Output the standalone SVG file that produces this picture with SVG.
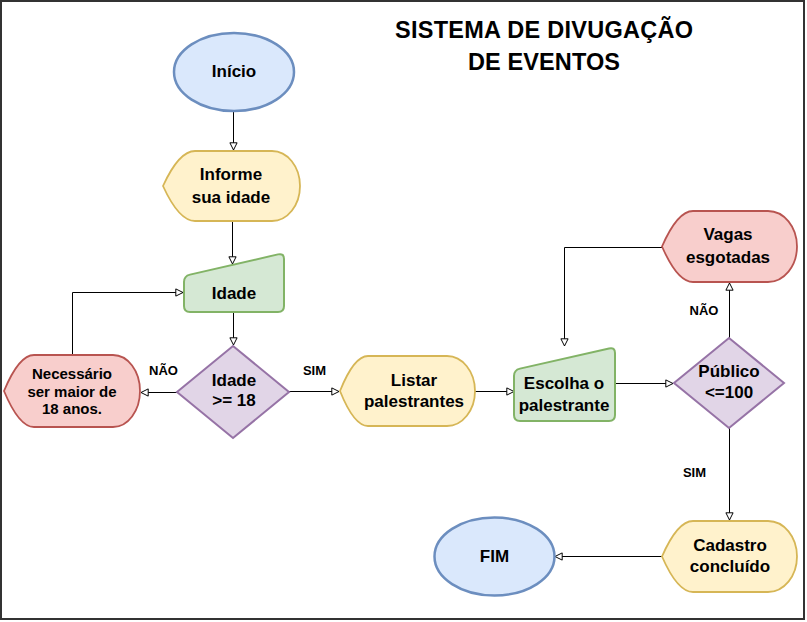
<svg xmlns="http://www.w3.org/2000/svg" width="807" height="622" viewBox="0 0 807 622">
<style>
text{font-family:"Liberation Sans",Arial,sans-serif;font-weight:bold;fill:#000;text-anchor:middle}
.t{font-size:17px}
.s{font-size:15px}
.l{font-size:13px}
.ti{font-size:23.5px}
.term{fill:#dae8fc;stroke:#6c8ebf;stroke-width:2.5}
.disp{fill:#fff2cc;stroke:#d6b656;stroke-width:1.8}
.err{fill:#f8cecc;stroke:#b85450;stroke-width:1.8}
.man{fill:#d5e8d4;stroke:#82b366;stroke-width:2}
.dec{fill:#e1d5e7;stroke:#9673a6;stroke-width:2}
.e{fill:none;stroke:#000;stroke-width:1;marker-end:url(#a)}
</style>
<defs>
<marker id="a" viewBox="0 0 10 10" refX="9" refY="5" markerWidth="9" markerHeight="9" orient="auto" markerUnits="userSpaceOnUse">
<path d="M1,1 L9,5 L1,9 Z" fill="#fff" stroke="#000" stroke-width="1.1"/>
</marker>
</defs>
<rect x="1" y="1" width="803" height="618" fill="#fff" stroke="#333" stroke-width="2"/>
<g id="title">
<text class="ti" x="544" y="38" textLength="298" lengthAdjust="spacing">SISTEMA DE DIVUGAÇÃO</text>
<text class="ti" x="544" y="70" textLength="152" lengthAdjust="spacing">DE EVENTOS</text>
</g>
<g id="connectors">
<path class="e" d="M233.5,111 V150"/>
<path class="e" d="M232.5,221 V264"/>
<path class="e" d="M233.5,312 V345"/>
<path class="e" d="M177,392.5 H141"/>
<path class="e" d="M72.5,355 V292.5 H183"/>
<path class="e" d="M289,391.5 H339"/>
<path class="e" d="M475,391.5 H514"/>
<path class="e" d="M615,383.5 H673"/>
<path class="e" d="M729.5,338 V283"/>
<path class="e" d="M662,247.5 H564.5 V346"/>
<path class="e" d="M729.5,428 V520"/>
<path class="e" d="M662,556.5 H555"/>
<text class="l" x="163.5" y="375">NÃO</text>
<text class="l" x="314.5" y="375">SIM</text>
<text class="l" x="704" y="315">NÃO</text>
<text class="l" x="694.5" y="477">SIM</text>
</g>
<g id="inicio">
<ellipse class="term" cx="234" cy="72" rx="60" ry="39"/>
<text class="t" x="234" y="77">Início</text>
</g>
<g id="informe">
<path class="disp" d="M163,186 C172.6,165 183.8,151 195,151 L272,151 A28,35 0 0 1 300,186 A28,35 0 0 1 272,221 L195,221 C183.8,221 172.6,207 163,186 Z"/>
<text class="t" x="231" y="180">Informe</text>
<text class="t" x="231" y="203">sua idade</text>
</g>
<g id="idade">
<path class="man" d="M184,282 Q184,276 190,274.6 L278,254.4 Q284,253 284,259 L284,306 Q284,312 278,312 L190,312 Q184,312 184,306 Z"/>
<text class="t" x="234" y="299">Idade</text>
</g>
<g id="decisao-idade">
<path class="dec" d="M233,346 L289,392 L233,438 L177,392 Z"/>
<text class="t" x="234" y="386">Idade</text>
<text class="t" x="234" y="406">&gt;= 18</text>
</g>
<g id="necessario">
<path class="err" d="M4,391 C13,369.4 23.5,355 34,355 L113,355 A27,36 0 0 1 140,391 A27,36 0 0 1 113,427 L34,427 C23.5,427 13,412.6 4,391 Z"/>
<text class="s" x="72" y="379">Necessário</text>
<text class="s" x="72" y="397">ser maior de</text>
<text class="s" x="72" y="414">18 anos.</text>
</g>
<g id="listar">
<path class="disp" d="M340,391 C348.4,370 358.2,356 368,356 L447,356 A28,35 0 0 1 475,391 A28,35 0 0 1 447,426 L368,426 C358.2,426 348.4,412 340,391 Z"/>
<text class="t" x="414" y="386">Listar</text>
<text class="t" x="414" y="407">palestrantes</text>
</g>
<g id="escolha">
<path class="man" d="M514,376 Q514,370 520,368.6 L609,348.4 Q615,347 615,353 L615,415 Q615,421 609,421 L520,421 Q514,421 514,415 Z"/>
<text class="t" x="564" y="389">Escolha o</text>
<text class="t" x="564" y="411">palestrante</text>
</g>
<g id="publico">
<path class="dec" d="M729,338 L784,383 L729,428 L674,383 Z"/>
<text class="t" x="729" y="377">Público</text>
<text class="t" x="729" y="398">&lt;=100</text>
</g>
<g id="vagas">
<path class="err" d="M662,246.5 C671.3,225.2 682.2,211 693,211 L768,211 A29,35.5 0 0 1 797,246.5 A29,35.5 0 0 1 768,282 L693,282 C682.2,282 671.3,267.8 662,246.5 Z"/>
<text class="t" x="728" y="240">Vagas</text>
<text class="t" x="728" y="263">esgotadas</text>
</g>
<g id="cadastro">
<path class="disp" d="M662,556.5 C671.3,535.2 682.2,521 693,521 L768,521 A29,35.5 0 0 1 797,556.5 A29,35.5 0 0 1 768,592 L693,592 C682.2,592 671.3,577.8 662,556.5 Z"/>
<text class="t" x="730" y="551">Cadastro</text>
<text class="t" x="730" y="572">concluído</text>
</g>
<g id="fim">
<ellipse class="term" cx="494.5" cy="556.5" rx="60" ry="39"/>
<text class="t" x="494.5" y="562">FIM</text>
</g>
</svg>
